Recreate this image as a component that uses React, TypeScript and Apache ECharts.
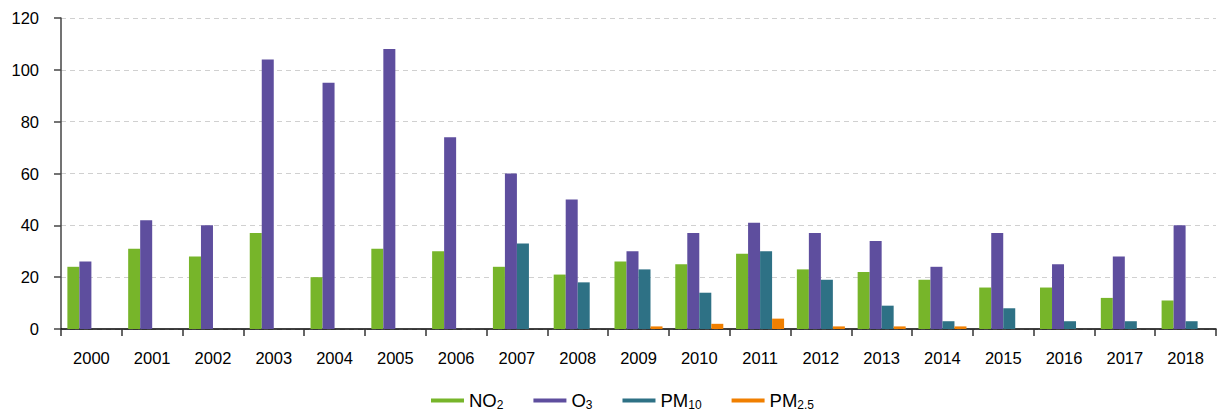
import React, { useEffect, useRef } from "react";
import * as echarts from "echarts";

const years = ["2000","2001","2002","2003","2004","2005","2006","2007","2008","2009","2010","2011","2012","2013","2014","2015","2016","2017","2018"];
const no2 = [24, 31, 28, 37, 20, 31, 30, 24, 21, 26, 25, 29, 23, 22, 19, 16, 16, 12, 11];
const o3 = [26, 42, 40, 104, 95, 108, 74, 60, 50, 30, 37, 41, 37, 34, 24, 37, 25, 28, 40];
const pm10 = [null, null, null, null, null, null, null, 33, 18, 23, 14, 30, 19, 9, 3, 8, 3, 3, 3];
const pm25 = [null, null, null, null, null, null, null, null, null, 1, 2, 4, 1, 1, 1, null, null, null, null];
const seriesNames = ["NO2", "O3", "PM10", "PM2.5"];
const legendLabels: Record<string, [string, string]> = {
  NO2: ["NO", "2"],
  O3: ["O", "3"],
  PM10: ["PM", "10"],
  "PM2.5": ["PM", "2.5"],
};
const colors = ["#77b52a", "#5e4e9e", "#2e7185", "#f07f00"];

export default function App() {
  const ref = useRef<HTMLDivElement>(null);
  useEffect(() => {
    if (!ref.current) return;
    const chart = echarts.init(ref.current, null, { renderer: "svg" });
    const font = "'Liberation Sans', Arial, Helvetica, sans-serif";
    const data = [no2, o3, pm10, pm25];
    chart.setOption({
      animation: false,
      textStyle: { fontFamily: font },
      grid: { left: 61, right: 10, top: 18, bottom: 83, containLabel: false },
      legend: {
        top: 391,
        left: 431,
        icon: "rect",
        itemWidth: 33,
        itemHeight: 4,
        itemGap: 30,
        padding: 0,
        data: seriesNames,
        formatter: (name: string) => {
          const [a, b] = legendLabels[name];
          return `{n|${a}}{s|${b}}`;
        },
        textStyle: {
          fontFamily: font,
          color: "#000",
          rich: {
            n: { fontSize: 18.5, fontFamily: font, color: "#000", lineHeight: 21 },
            s: { fontSize: 12, fontFamily: font, color: "#000", verticalAlign: "bottom", lineHeight: 10 },
          },
        },
      },
      xAxis: {
        type: "category",
        data: years,
        axisLine: { show: true, lineStyle: { color: "#000", width: 1.5 } },
        axisTick: { show: true, alignWithLabel: false, length: 7, lineStyle: { color: "#333", width: 1.5 } },
        axisLabel: { color: "#000", fontSize: 16.5, margin: 20, fontFamily: font },
      },
      yAxis: {
        type: "value",
        min: 0,
        max: 120,
        interval: 20,
        axisLine: { show: true, lineStyle: { color: "#444", width: 1.5 } },
        axisTick: { show: true, length: 7, lineStyle: { color: "#444", width: 1.5 } },
        axisLabel: { color: "#000", fontSize: 16.5, margin: 22, fontFamily: font },
        splitLine: { show: true, lineStyle: { color: "#d0d0d0", type: [5, 4], width: 1 } },
      },
      series: seriesNames.map((name, i) => ({
        name,
        type: "bar",
        data: data[i],
        itemStyle: { color: colors[i] },
        barGap: "0%",
        barCategoryGap: "21%",
      })),
    });
    return () => chart.dispose();
  }, []);
  return <div ref={ref} style={{ width: 1226, height: 412, position: "absolute", left: 0, top: 0 }} />;
}
